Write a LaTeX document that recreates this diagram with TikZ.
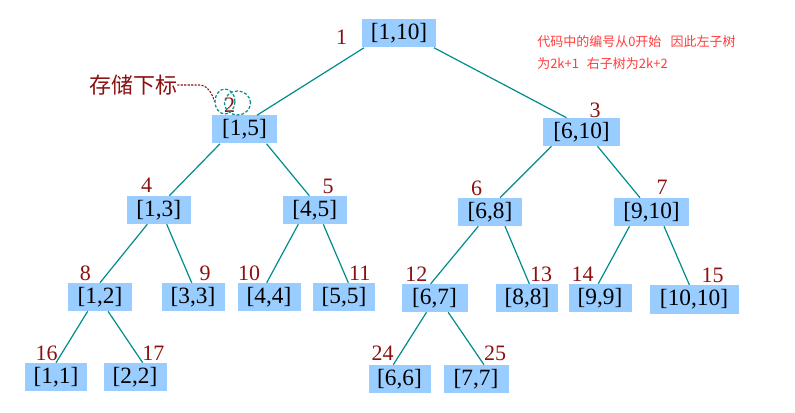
\documentclass[tikz,border=0pt]{standalone}
\usepackage{fontspec}
\newfontfamily\cjk{Noto Sans CJK SC}
\newfontfamily\serifnum{Liberation Serif}
\usetikzlibrary{calc,shapes.geometric}
\definecolor{boxblue}{RGB}{153,204,255}
\definecolor{idxred}{RGB}{140,16,16}
\definecolor{edgeteal}{RGB}{0,140,140}
\definecolor{notered}{RGB}{255,60,60}
\newcommand\myboxfont{\serifnum\fontsize{17.5}{18}\selectfont}
\newcommand\myidxfont{\serifnum\fontsize{16.5}{16}\selectfont}
\tikzset{
  seg/.style={fill=boxblue, inner sep=0pt, font=\myboxfont, minimum height=21pt},
  idx/.style={text=idxred, font=\myidxfont, inner sep=0pt},
  edge/.style={draw=edgeteal, line width=0.9pt},
  ring/.style={ellipse, draw=edgeteal, dash pattern=on 2.2pt off 1.4pt, line width=0.9pt, inner sep=0pt}
}
\begin{document}
\begin{tikzpicture}[x=0.75pt,y=-0.75pt]
\path[use as bounding box] (0,0) rectangle (795,413);
% segment boxes
\node[seg, minimum width=55.5pt] (n1) at (399,33.5) {[1,10]};
\node[seg, minimum width=48.75pt] (n2) at (244.5,129.5) {[1,5]};
\node[seg, minimum width=57.75pt] (n3) at (581.5,132) {[6,10]};
\node[seg, minimum width=48pt] (n4) at (158.7,210) {[1,3]};
\node[seg, minimum width=48pt] (n5) at (314.7,210) {[4,5]};
\node[seg, minimum width=48pt] (n6) at (490,212) {[6,8]};
\node[seg, minimum width=56.25pt] (n7) at (651.5,212) {[9,10]};
\node[seg, minimum width=48pt] (n8) at (100,297) {[1,2]};
\node[seg, minimum width=47.25pt] (n9) at (193,297) {[3,3]};
\node[seg, minimum width=47.25pt] (n10) at (269,297) {[4,4]};
\node[seg, minimum width=46.5pt] (n11) at (344,297) {[5,5]};
\node[seg, minimum width=49.5pt] (n12) at (434.5,298) {[6,7]};
\node[seg, minimum width=46.5pt] (n13) at (527,298) {[8,8]};
\node[seg, minimum width=47.25pt] (n14) at (600,298) {[9,9]};
\node[seg, minimum width=66.75pt, minimum height=21.75pt] (n15) at (694,299.5) {[10,10]};
\node[seg, minimum width=46.5pt] (n16) at (56,377) {[1,1]};
\node[seg, minimum width=47.25pt] (n17) at (135,377) {[2,2]};
\node[seg, minimum width=46.5pt] (n24) at (399.5,379) {[6,6]};
\node[seg, minimum width=48.75pt] (n25) at (476,379) {[7,7]};
% edges
\draw[edge] ($(n1.south)+(-35,0)$) -- ($(n2.north)+(12.5,0)$);
\draw[edge] ($(n1.south)+(35,0)$) -- ($(n3.north)+(-15,0)$);
\draw[edge] ($(n2.south)+(-24.5,0)$) -- ($(n4.north)+(10.6,0)$);
\draw[edge] ($(n2.south)+(22,0)$) -- ($(n5.north)+(-5.4,0)$);
\draw[edge] ($(n3.south)+(-30,0)$) -- ($(n6.north)+(10,0)$);
\draw[edge] ($(n3.south)+(16,0)$) -- ($(n7.north)+(-11.5,0)$);
\draw[edge] ($(n4.south)+(-11.4,0)$) -- (n8.north);
\draw[edge] ($(n4.south)+(8,0)$) -- ($(n9.north)+(-1.3,0)$);
\draw[edge] ($(n5.south)+(-16.4,0)$) -- ($(n10.north)+(-2.3,0)$);
\draw[edge] ($(n5.south)+(8.6,0)$) -- ($(n11.north)+(4.3,0)$);
\draw[edge] ($(n6.south)+(-11.7,0)$) -- ($(n12.north)+(-3.8,0)$);
\draw[edge] ($(n6.south)+(15,0)$) -- ($(n13.north)+(2.3,0)$);
\draw[edge] ($(n7.south)+(-22,0)$) -- ($(n14.north)+(-1.7,0)$);
\draw[edge] ($(n7.south)+(12.5,0)$) -- ($(n15.north)+(-4.7,0)$);
\draw[edge] ($(n8.south)+(-12.3,0)$) -- (n16.north);
\draw[edge] ($(n8.south)+(8,0)$) -- ($(n17.north)+(7.7,0)$);
\draw[edge] ($(n12.south)+(-8,0)$) -- ($(n24.north)+(-6.2,0)$);
\draw[edge] ($(n12.south)+(13.7,0)$) -- ($(n25.north)+(8,0)$);
% index labels
\node[idx] (i1) at (341.5,37) {1};
\node[idx] (i2) at (229.5,105) {2};
\node[idx] (i3) at (595,110) {3};
\node[idx] (i4) at (146.7,185.5) {4};
\node[idx] (i5) at (328,186.7) {5};
\node[idx] (i6) at (476.7,188.8) {6};
\node[idx] (i7) at (662,187) {7};
\node[idx] (i8) at (85.3,273) {8};
\node[idx] (i9) at (205,273) {9};
\node[idx] (i10) at (249,273) {10};
\node[idx] (i11) at (359.7,273) {11};
\node[idx] (i12) at (416.3,274) {12};
\node[idx] (i13) at (541,274) {13};
\node[idx] (i14) at (582.7,274) {14};
\node[idx] (i15) at (712.5,275) {15};
\node[idx] (i16) at (46.7,353) {16};
\node[idx] (i17) at (153.3,353) {17};
\node[idx] (i24) at (382.5,353.5) {24};
\node[idx] (i25) at (495,353.5) {25};
% annotation
\node[ring, minimum width=15pt, minimum height=18.75pt] (c1) at (225,101.5) {};
\node[ring, minimum width=19.5pt, minimum height=18pt] (c2) at (237.5,103) {};
\node[text=idxred, inner sep=0pt, font=\cjk\fontsize{16.5}{17}\selectfont] (lbl) at (133,85) {存储下标};
\draw[idxred, dash pattern=on 1.6pt off 1pt, line width=0.8pt] (lbl.east) -- ++(22,0) .. controls +(8,0) and +(-2,-8) .. (c1.west);
\node[text=notered, inner sep=0pt, anchor=north west, align=left, font=\cjk\fontsize{9.75}{13.5}\selectfont] (note) at (537,35) {代码中的编号从0开始\hspace{0.7em}因此左子树\\[3.5pt]为2k+1\hspace{0.6em}右子树为2k+2};
\end{tikzpicture}
\end{document}
